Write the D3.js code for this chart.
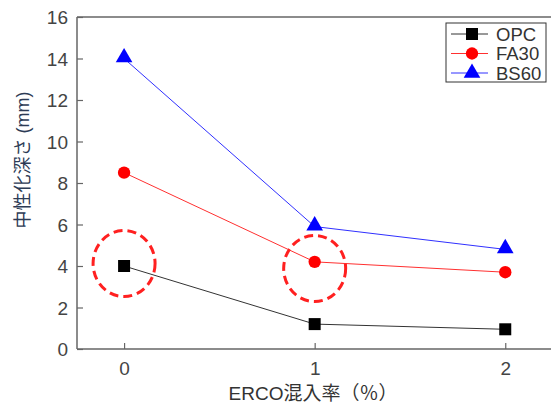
<!DOCTYPE html>
<html><head><meta charset="utf-8">
<script src="https://cdn.jsdelivr.net/npm/d3@7"></script>
<style>body{margin:0;background:#fff}svg{display:block}</style>
</head><body>
<script>
const categories = [0, 1, 2];
const seriesNames = ["OPC", "FA30", "BS60"];
const opcValues = [4.0, 1.2, 0.95];
const fa30Values = [8.5, 4.2, 3.7];
const bs60Values = [14.0, 5.9, 4.8];
const yTicks = [0, 2, 4, 6, 8, 10, 12, 14, 16];
const highlights = [{x: 0, y: 4.12}, {x: 1, y: 3.88}];

const W = 551, H = 408;
const svg = d3.select("body").append("svg").attr("width", W).attr("height", H);
const m = {l: 77, t: 17, r: 551, b: 349};
const x = d3.scaleLinear().domain([-0.247, 2.24]).range([m.l, m.r]);
const y = d3.scaleLinear().domain([0, 16]).range([m.b, m.t]);
const font = "'Liberation Sans', Arial, 'Noto Sans CJK JP', sans-serif";
const axisCol = "#666";

svg.append("line").attr("x1", m.l).attr("x2", m.r).attr("y1", m.t).attr("y2", m.t).attr("stroke", axisCol).attr("stroke-width", 1.5);

const yAxis = d3.axisLeft(y).tickValues(yTicks).tickSize(-6).tickPadding(9);
const gy = svg.append("g").attr("transform", `translate(${m.l},0)`).call(yAxis);
const xAxis = d3.axisBottom(x).tickValues(categories).tickSize(-6).tickPadding(9).tickFormat(d3.format("d"));
const gx = svg.append("g").attr("transform", `translate(0,${m.b})`).call(xAxis);
[gy, gx].forEach(g => {
  g.select(".domain").attr("stroke", axisCol).attr("stroke-width", 1.5);
  g.selectAll(".tick line").attr("stroke", axisCol).attr("stroke-width", 1.2);
  g.selectAll(".tick text").attr("fill", "#444").style("font-family", font).style("font-size", "19px");
});
gy.selectAll(".tick text").attr("dy", "0.35em");
gx.selectAll(".tick text").attr("dy", "0.9em");
gy.select(".domain").attr("d", `M0,${m.t}V${m.b}`);
gx.select(".domain").attr("d", `M${m.l},0H${m.r}`);

const series = [
  {name: seriesNames[0], values: opcValues, color: "#000", line: "#333", shape: d3.symbolSquare, size: 144},
  {name: seriesNames[1], values: fa30Values, color: "#ff0000", line: "#ff3030", shape: d3.symbolCircle, size: 120},
  {name: seriesNames[2], values: bs60Values, color: "#0000ff", line: "#3030ff", shape: d3.symbolTriangle, size: 120}
];
const line = d3.line().x((d, i) => x(categories[i])).y(d => y(d));
series.forEach(s => {
  svg.append("path").attr("d", line(s.values)).attr("fill", "none").attr("stroke", s.line).attr("stroke-width", 1);
  svg.selectAll(null).data(s.values).enter().append("path")
    .attr("d", d3.symbol().type(s.shape).size(s.size))
    .attr("transform", (d, i) => `translate(${x(categories[i])},${y(d) + (s.shape === d3.symbolTriangle ? -1 : 0)})`)
    .attr("fill", s.color);
});

svg.selectAll(null).data(highlights).enter().append("ellipse")
  .attr("cx", d => x(d.x)).attr("cy", d => y(d.y)).attr("rx", 31).attr("ry", 33)
  .attr("fill", "none").attr("stroke", "#ff2020").attr("stroke-width", 3).attr("stroke-dasharray", "9,5");

const lg = svg.append("g");
lg.append("rect").attr("x", 446).attr("y", 23).attr("width", 100).attr("height", 59)
  .attr("fill", "#fff").attr("stroke", "#333").attr("stroke-width", 1);
series.forEach((s, i) => {
  const yy = 34 + i * 19.5;
  lg.append("line").attr("x1", 451).attr("x2", 488).attr("y1", yy).attr("y2", yy).attr("stroke", s.line).attr("stroke-width", 1);
  lg.append("path").attr("d", d3.symbol().type(s.shape).size(s.size))
    .attr("transform", `translate(472,${yy})`).attr("fill", s.color);
  lg.append("text").attr("x", 496).attr("y", yy).attr("dy", "0.36em").text(s.name)
    .attr("fill", "#333").style("font-family", font).style("font-size", "18.5px");
});

svg.append("text").attr("transform", "translate(29,160) rotate(-90)").attr("text-anchor", "middle")
  .text("中性化深さ (mm)").attr("fill", "#2d3b55").style("font-family", font).style("font-size", "18px");
svg.append("text").attr("x", 313).attr("y", 400).attr("text-anchor", "middle")
  .text("ERCO混入率（％）").attr("fill", "#333").style("font-family", font).style("font-size", "19px");
</script>
</body></html>
